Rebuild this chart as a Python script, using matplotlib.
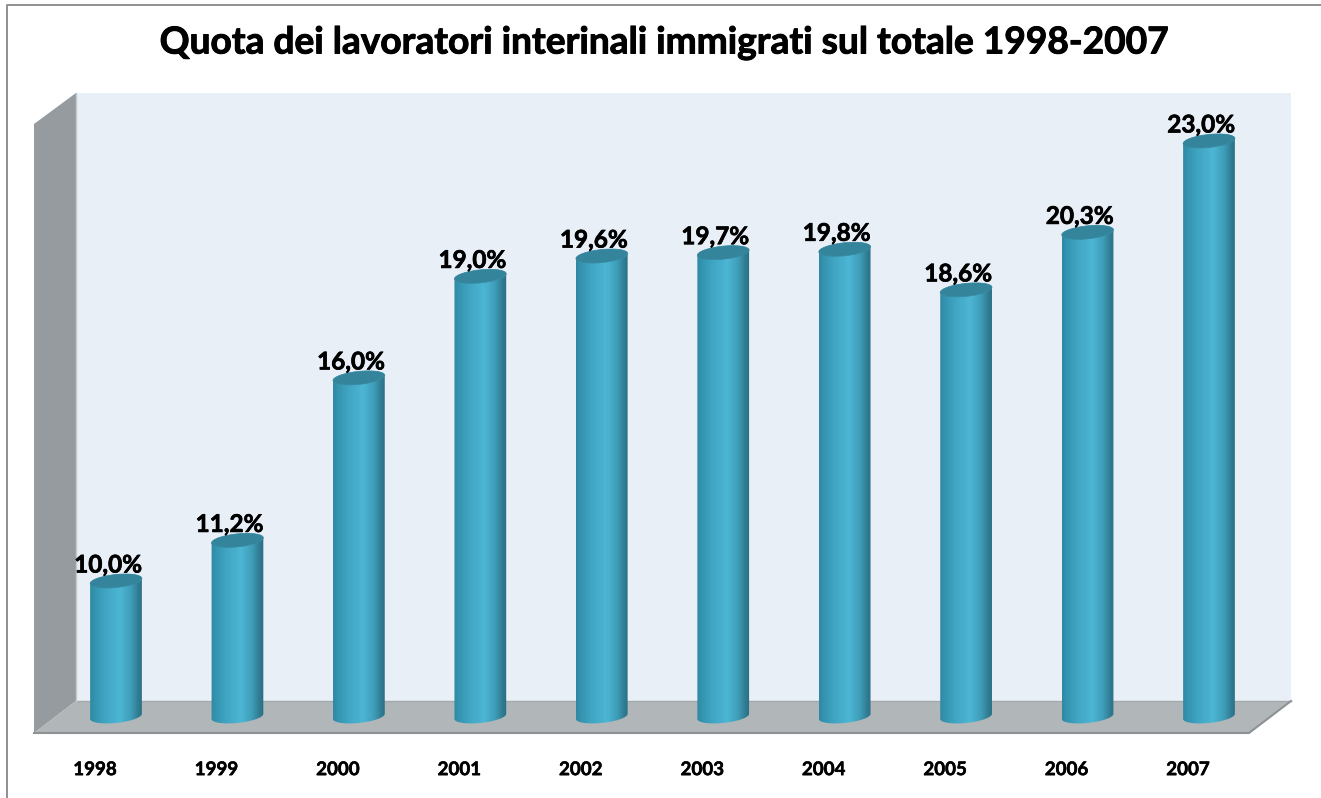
import numpy as np
import matplotlib
matplotlib.use('Agg')
import matplotlib.pyplot as plt
import matplotlib.patheffects as pe
from matplotlib.colors import LinearSegmentedColormap
from matplotlib.patches import Polygon
from matplotlib.transforms import ScaledTranslation

years = ['1998', '1999', '2000', '2001', '2002', '2003', '2004', '2005', '2006', '2007']
values = [10.0, 11.2, 16.0, 19.0, 19.6, 19.7, 19.8, 18.6, 20.3, 23.0]
title = 'Quota dei lavoratori interinali immigrati sul totale 1998-2007'

W, H = 1321, 798
plt.rcParams['font.family'] = ['Lato', 'DejaVu Sans']
fig = plt.figure(figsize=(W / 100, H / 100), dpi=100)

# background: frame and the fake 3D walls, in pixel coordinates
bg = fig.add_axes([0, 0, 1, 1])
bg.set_xlim(0, W)
bg.set_ylim(H, 0)
bg.axis('off')
bg.plot([6.5, 6.5, W], [H, 4.5, 4.5], color='#8f8f8f', lw=1.4)
bg.add_patch(Polygon([(76, 93), (1291, 93), (1291, 701), (76, 701)], fc='#e8eff7', ec='none'))
bg.add_patch(Polygon([(34, 124), (76, 93), (76, 701), (34, 733)], fc='#959b9e', ec='none'))
bg.add_patch(Polygon([(76, 701), (1291, 701), (1249, 733), (34, 733)], fc='#b1b6b9', ec='none'))
bg.plot([76, 1291], [701, 701], color='#a5a9ac', lw=1)
bg.plot([34, 1249, 1291], [733, 733, 701], color='#8e9295', lw=1.5)
bg.plot([76, 76], [93, 701], color='#c4c9cc', lw=1)

# data axes: one x unit = 121.44 px, one y unit = 33.85 px
px_x, px_y = 121.44, 33.85
left, right = 116 - px_x / 2, 1209 + px_x / 2
base = 6
ymin, ymax = 5.5, 24.5
y_bottom_px = 716.4 + (base - ymin) * px_y
ax = fig.add_axes([left / W, 1 - y_bottom_px / H, (right - left) / W, (ymax - ymin) * px_y / H])
ax.patch.set_alpha(0)
for s in ax.spines.values():
    s.set_visible(False)
ax.set_yticks([])

body = LinearSegmentedColormap.from_list('body', [
    (0.0, '#2f88a3'), (0.1, '#3595b1'), (0.3, '#41a6c4'), (0.57, '#4cb6d4'),
    (0.78, '#3f9db8'), (0.92, '#2f7b91'), (1.0, '#2a6e82')])
grad = np.linspace(0, 1, 128).reshape(1, -1)

a, b, tilt = 26.0, 6.5, np.radians(6)
t = np.linspace(0, 2 * np.pi, 121)
ex = (a * np.cos(t) * np.cos(tilt) - b * np.sin(t) * np.sin(tilt)) / px_x
ey = (a * np.cos(t) * np.sin(tilt) + b * np.sin(t) * np.cos(tilt)) / px_y
bot = t >= np.pi
top = t <= np.pi

for i, v in enumerate(values):
    # lower half of the bottom ellipse, then upper half of the top one
    xs = np.r_[i + ex[bot], i + ex[top]]
    ys = np.r_[base + ey[bot], v + ey[top]]
    clip = Polygon(np.c_[xs, ys], transform=ax.transData, fc='none', ec='none')
    ax.add_patch(clip)
    im = ax.imshow(grad, cmap=body, extent=(i - a / px_x, i + a / px_x, base - 0.3, v + 0.3),
                   aspect='auto', zorder=2, interpolation='bilinear')
    im.set_clip_path(clip)
    ax.fill(i + ex, v + ey, fc='#34849c', ec='#3a8ba3', lw=0.5, zorder=3)
    ax.annotate(f'{v:.1f}%'.replace('.', ','), (i, v), xytext=(-5.8, 11.5),
                textcoords='offset points', ha='center', va='center',
                fontsize=17.5, fontweight='bold', color='black', zorder=4,
                path_effects=[pe.withStroke(linewidth=0.5, foreground='black')])

ax.set_xlim(-0.5, 9.5)
ax.set_ylim(ymin, ymax)
ax.set_xticks(range(len(years)))
ax.set_xticklabels(years, fontsize=13.5, fontweight='bold')
ax.tick_params(axis='x', length=0, pad=20)
for lab in ax.get_xticklabels():
    lab.set_transform(lab.get_transform() + ScaledTranslation(-21 / 100, 0, fig.dpi_scale_trans))
    lab.set_path_effects([pe.withStroke(linewidth=0.4, foreground='black')])

fig.text(664.5 / W, 1 - 43 / H, title, ha='center', va='center',
         fontsize=26.7, fontweight='bold', color='black',
         path_effects=[pe.withStroke(linewidth=0.7, foreground='black')])

fig.savefig('out.png', dpi=100)
